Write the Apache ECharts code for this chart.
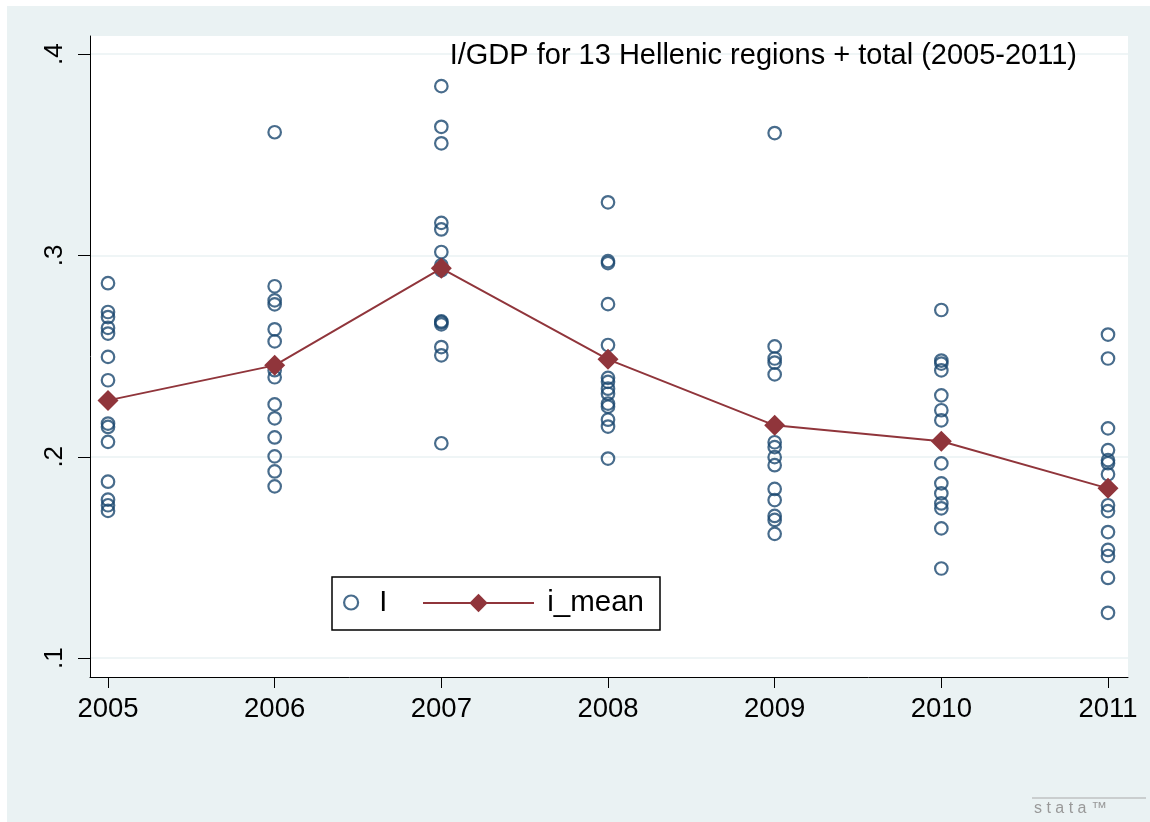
<!DOCTYPE html>
<html>
<head>
<meta charset="utf-8">
<script src="https://cdn.jsdelivr.net/npm/echarts@6/dist/echarts.min.js"></script>
<style>
  html, body { margin: 0; padding: 0; background: #fff; }
  #chart { width: 1150px; height: 822px; }
</style>
</head>
<body>
<div id="chart"></div>
<script>
// years on the x axis
var years = [2005, 2006, 2007, 2008, 2009, 2010, 2011];
// I/GDP per region, one list per year
var i2005 = [0.2862, 0.2719, 0.2694, 0.2640, 0.2612, 0.2496, 0.2380, 0.2165, 0.2148, 0.2074, 0.1876, 0.1787, 0.1759, 0.1731];
var i2006 = [0.3612, 0.2847, 0.2777, 0.2757, 0.2633, 0.2573, 0.2430, 0.2395, 0.2260, 0.2191, 0.2096, 0.2002, 0.1927, 0.1853];
var i2007 = [0.3841, 0.3639, 0.3557, 0.3162, 0.3129, 0.3017, 0.2951, 0.2926, 0.2672, 0.2668, 0.2658, 0.2545, 0.2504, 0.2067];
var i2008 = [0.3264, 0.2972, 0.2962, 0.2758, 0.2555, 0.2392, 0.2372, 0.2338, 0.2313, 0.2264, 0.2249, 0.2184, 0.2150, 0.1991];
var i2009 = [0.3608, 0.2548, 0.2488, 0.2468, 0.2409, 0.2072, 0.2048, 0.1998, 0.1958, 0.1840, 0.1785, 0.1706, 0.1686, 0.1617];
var i2010 = [0.2729, 0.2478, 0.2463, 0.2429, 0.2305, 0.2231, 0.2181, 0.1967, 0.1868, 0.1818, 0.1768, 0.1744, 0.1644, 0.1445];
var i2011 = [0.2607, 0.2488, 0.2141, 0.2033, 0.1983, 0.1968, 0.1913, 0.1759, 0.1730, 0.1626, 0.1537, 0.1507, 0.1398, 0.1225];
// yearly mean
var iMean = [0.2280, 0.2454, 0.2936, 0.2484, 0.2156, 0.2077, 0.1843];
// tick labels
var yTicks = [0.1, 0.2, 0.3, 0.4];

var byYear = [i2005, i2006, i2007, i2008, i2009, i2010, i2011];
var scatterData = [];
byYear.forEach(function (list, k) {
  list.forEach(function (v) { scatterData.push([years[k], v]); });
});
var meanData = years.map(function (y, k) { return [y, iMean[k]]; });

var navy = '#1a476f';
var maroon = '#90353b';
var font = 'Liberation Sans, Arial, sans-serif';

var chart = echarts.init(document.getElementById('chart'));
chart.setOption({
  backgroundColor: '#fff',
  animation: false,
  textStyle: { fontFamily: font, color: '#000' },
  title: {
    text: 'I/GDP for 13 Hellenic regions + total (2005-2011)',
    right: 73,
    top: 41,
    padding: 0,
    textStyle: { fontFamily: font, fontSize: 29, fontWeight: 'normal', color: '#000' }
  },
  graphic: [
    { type: 'rect', shape: { x: 7, y: 6, width: 1143, height: 816 }, style: { fill: '#eaf2f3' }, z: -10, silent: true },
    { type: 'rect', shape: { x: 332, y: 577, width: 328, height: 53 }, style: { fill: '#fff', stroke: '#000', lineWidth: 1.5 }, z: 3, silent: true },
    { type: 'line', shape: { x1: 1032, y1: 798, x2: 1146, y2: 798 }, style: { stroke: '#aaa', lineWidth: 1 }, z: 3, silent: true },
    { type: 'text', x: 1034, y: 801, style: { text: 's t a t a ™', fill: '#999', font: '16px ' + font }, z: 3, silent: true }
  ],
  grid: {
    left: 90, right: 22, top: 36, bottom: 145,
    show: true, backgroundColor: '#fff', borderWidth: 0
  },
  legend: [
    {
      data: [{ name: 'I', itemStyle: { color: 'rgba(0,0,0,0)', borderColor: navy, borderWidth: 2.2 } }],
      left: 343, top: 588, padding: 0,
      itemWidth: 14, itemHeight: 14,
      formatter: function (n) { return '  ' + n; },
      textStyle: { fontFamily: font, fontSize: 29, color: '#000' },
      z: 5
    },
    {
      data: ['i_mean'],
      left: 422, top: 588, padding: 0,
      itemWidth: 111, itemHeight: 23,
      formatter: function (n) { return ' ' + n; },
      textStyle: { fontFamily: font, fontSize: 29.5, color: '#000' },
      z: 5
    }
  ],
  xAxis: {
    type: 'value',
    min: 2004.892, max: 2011.12,
    axisLine: { show: true, lineStyle: { color: '#000', width: 1 } },
    axisTick: { show: true, length: 11, customValues: years, lineStyle: { color: '#000' } },
    axisLabel: {
      customValues: years, margin: 18, fontSize: 27.5, color: '#000', fontFamily: font,
      formatter: function (v) { return String(Math.round(v)); }
    },
    splitLine: { show: false }
  },
  yAxis: {
    type: 'value',
    min: 0.0906, max: 0.409,
    axisLine: { show: true, lineStyle: { color: '#000', width: 1 } },
    axisTick: { show: true, length: 12, customValues: yTicks, lineStyle: { color: '#000' } },
    axisLabel: {
      customValues: yTicks, rotate: 90, margin: 22, fontSize: 26, color: '#000', fontFamily: font,
      formatter: function (v) { return '.' + Math.round(v * 10); }
    },
    splitLine: { show: true, lineStyle: { color: '#eaf2f3', width: 1.5 } }
  },
  series: [
    {
      name: 'I',
      type: 'scatter',
      data: scatterData,
      symbol: 'circle',
      symbolSize: 12.5,
      itemStyle: { color: 'rgba(0,0,0,0)', borderColor: navy, borderWidth: 2.2 },
      z: 2
    },
    {
      name: 'i_mean',
      type: 'line',
      data: meanData,
      symbol: 'diamond',
      symbolSize: 21,
      lineStyle: { color: maroon, width: 2 },
      itemStyle: { color: maroon },
      z: 3
    }
  ]
});
</script>
</body>
</html>
